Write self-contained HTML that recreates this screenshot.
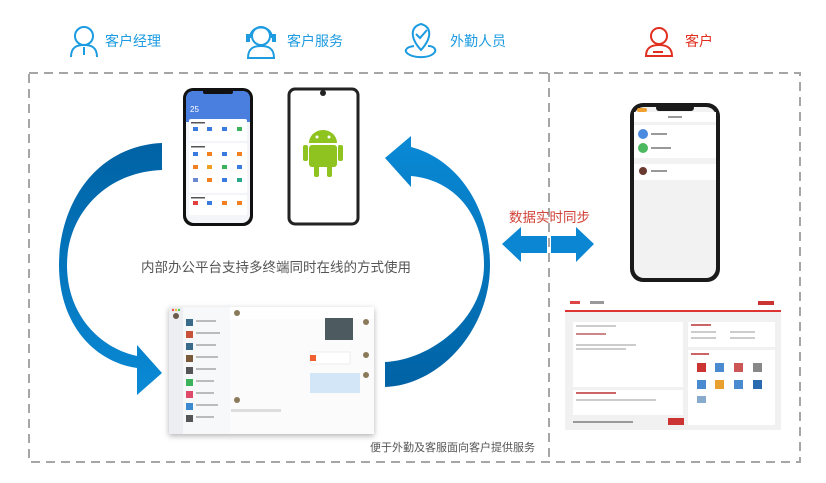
<!DOCTYPE html>
<html><head><meta charset="utf-8"><style>
body{margin:0;width:826px;height:483px;background:#fff;overflow:hidden;position:relative;font-family:"Liberation Sans","Noto Sans CJK SC",sans-serif}
.a{position:absolute}
.t{position:absolute;font-size:14px;white-space:nowrap}
</style></head><body>
<svg class="a" style="left:0;top:0" width="826" height="483">
<defs>
<linearGradient id="gl" x1="0" y1="0" x2="0" y2="1"><stop offset="0" stop-color="#0062a4"/><stop offset="1" stop-color="#0a8ad6"/></linearGradient>
<linearGradient id="gr" x1="0" y1="0" x2="0" y2="1"><stop offset="0" stop-color="#0a8ad6"/><stop offset="1" stop-color="#0062a4"/></linearGradient>
<filter id="sh" x="-10%" y="-10%" width="120%" height="130%"><feDropShadow dx="0" dy="2" stdDeviation="3" flood-color="#000" flood-opacity="0.3"/></filter>
</defs>
<rect x="29" y="73" width="771" height="389" fill="none" stroke="#a6a6a6" stroke-width="2" stroke-dasharray="9,6"/>
<line x1="549" y1="73" x2="549" y2="462" stroke="#a6a6a6" stroke-width="2" stroke-dasharray="9,6"/>
<g fill="none" stroke="#1c9be0" stroke-width="2">
<circle cx="84" cy="36" r="9"/><path d="M71,57 C71,47 77,45 84,45 C91,45 97,47 97,57"/><path d="M84,47 L84,55"/>
<circle cx="261" cy="36" r="9"/><path d="M248,58 C248,48 254,46 261,46 C268,46 274,48 274,58 Z"/><path d="M250,38 C250,24 272,24 272,38"/>
<path d="M421,50 C410,38 410,27 421,24 C432,27 432,38 421,50Z"/><path d="M416,34 L420,38 L427,30"/><path d="M414,46 C405,47 403,52 410,55 C416,58 428,58 433,54 C438,50 434,46 428,46"/>
</g>
<rect x="246" y="34" width="4" height="8" fill="#1c9be0"/><rect x="272" y="34" width="4" height="8" fill="#1c9be0"/>
<g fill="none" stroke="#e02f1f" stroke-width="2"><circle cx="659" cy="36" r="8"/><path d="M646,56 C646,47 652,45 659,45 C666,45 672,47 672,56 Z"/><path d="M653,52 L663,52"/></g>
<path d="M162,143 C95,146 59,205 59,265 C59,325 95,362 137,368 L137,395 L162,373 L137,345 L137,356 C100,348 67,315 67,265 C67,215 105,172 162,170 Z" fill="url(#gl)"/>
<path d="M411,147 C460,160 490,210 490,265 C490,330 440,385 385,387 L385,362 C430,360 484,320 484,265 C484,215 455,180 411,176 L411,187 L385,158 L411,136 Z" fill="url(#gr)"/>
<path d="M502,244 L521,227 L521,236 L547,236 L547,253 L521,253 L521,262 Z" fill="#0a86d2"/>
<path d="M594,244 L576,227 L576,236 L551,236 L551,253 L576,253 L576,262 Z" fill="#0a86d2"/>
<!-- iPhone -->
<rect x="183" y="88" width="70" height="138" rx="10" fill="#111"/>
<rect x="186" y="91" width="64" height="132" rx="8" fill="#f3f5f8"/>
<path d="M186,99 Q186,91 194,91 L242,91 Q250,91 250,99 L250,122 L186,122Z" fill="#4a7fe0"/>
<rect x="203" y="89" width="30" height="5" rx="2" fill="#111"/>
<rect x="189" y="119" width="58" height="22" rx="2" fill="#fff"/>
<rect x="189" y="143" width="58" height="50" rx="2" fill="#fff"/>
<rect x="189" y="195" width="58" height="20" rx="2" fill="#fff"/>
<text x="190" y="112" font-size="8" fill="#fff" font-family="Liberation Sans">25</text>
<g fill="#3a7be0">
<rect x="193" y="127" width="5" height="4"/><rect x="207" y="127" width="5" height="4"/><rect x="222" y="127" width="5" height="4"/><rect x="237" y="127" width="5" height="4" fill="#3cb35a"/>
<rect x="193" y="152" width="5" height="4"/><rect x="207" y="152" width="5" height="4" fill="#f08020"/><rect x="222" y="152" width="5" height="4"/><rect x="237" y="152" width="5" height="4" fill="#f08020"/>
<rect x="193" y="165" width="5" height="4" fill="#f08020"/><rect x="207" y="165" width="5" height="4" fill="#f0a020"/><rect x="222" y="165" width="5" height="4" fill="#3cb35a"/><rect x="237" y="165" width="5" height="4"/>
<rect x="193" y="178" width="5" height="4" fill="#6a8ad0"/><rect x="207" y="178" width="5" height="4" fill="#f08020"/><rect x="222" y="178" width="5" height="4"/><rect x="237" y="178" width="5" height="4" fill="#2aa88a"/>
<rect x="193" y="201" width="5" height="4" fill="#e04040"/><rect x="207" y="201" width="5" height="4"/><rect x="222" y="201" width="5" height="4" fill="#f08020"/><rect x="237" y="201" width="5" height="4" fill="#f08020"/>
</g>
<g fill="#ccc"><rect x="191" y="122" width="14" height="1.5" fill="#555"/><rect x="191" y="146" width="14" height="1.5" fill="#555"/><rect x="191" y="197" width="14" height="1.5" fill="#555"/></g>
<!-- Android -->
<rect x="289" y="89" width="69" height="135" rx="6" fill="#fff" stroke="#222" stroke-width="3"/>
<circle cx="323" cy="93" r="3" fill="#222"/>
<g fill="#8fc31f"><path d="M309,143 A14,13 0 0 1 337,143 Z"/><rect x="309" y="145" width="28" height="22" rx="3"/><rect x="303" y="145" width="5" height="16" rx="2"/><rect x="338" y="145" width="5" height="16" rx="2"/><rect x="314" y="165" width="5" height="12" rx="2"/><rect x="327" y="165" width="5" height="12" rx="2"/></g>
<circle cx="317" cy="137" r="1.5" fill="#fff"/><circle cx="329" cy="137" r="1.5" fill="#fff"/>
<!-- desktop window -->
<g filter="url(#sh)"><rect x="169" y="307" width="205" height="127" fill="#fff"/></g>
<rect x="169" y="307" width="14" height="127" fill="#eceef1"/>
<rect x="183" y="307" width="47" height="127" fill="#f7f8f9"/>
<rect x="230" y="307" width="144" height="127" fill="#fbfbfc"/>
<rect x="230" y="307" width="144" height="12" fill="#fff"/>
<circle cx="237" cy="313" r="3" fill="#8a7a5a"/>
<circle cx="173" cy="310" r="1.2" fill="#e55"/><circle cx="176" cy="310" r="1.2" fill="#eb3"/><circle cx="179" cy="310" r="1.2" fill="#5c5"/>
<circle cx="176" cy="316" r="3" fill="#6a5a4a"/>
<rect x="325" y="318" width="28" height="22" fill="#4d5a60"/>
<rect x="310" y="352" width="40" height="12" fill="#fff" stroke="#eee"/>
<rect x="310" y="355" width="6" height="6" fill="#f06030"/>
<rect x="310" y="373" width="50" height="20" fill="#d3e6f8"/>
<circle cx="366" cy="322" r="3" fill="#8a7a5a"/><circle cx="366" cy="355" r="3" fill="#8a7a5a"/><circle cx="366" cy="375" r="3" fill="#8a7a5a"/><circle cx="237" cy="400" r="3" fill="#8a7a5a"/>
<rect x="231" y="409" width="50" height="3" fill="#ddd"/>
<g fill="#3b6b8a"><rect x="186" y="319" width="7" height="7"/><rect x="186" y="331" width="7" height="7" fill="#c9533a"/><rect x="186" y="343" width="7" height="7"/><rect x="186" y="355" width="7" height="7" fill="#7a5a3a"/><rect x="186" y="367" width="7" height="7" fill="#555"/><rect x="186" y="379" width="7" height="7" fill="#3cb35a"/><rect x="186" y="391" width="7" height="7" fill="#e04a6a"/><rect x="186" y="403" width="7" height="7" fill="#3b8ad0"/><rect x="186" y="415" width="7" height="7" fill="#555"/></g>
<g fill="#bbb"><rect x="196" y="320" width="20" height="2"/><rect x="196" y="332" width="24" height="2"/><rect x="196" y="344" width="20" height="2"/><rect x="196" y="356" width="22" height="2"/><rect x="196" y="368" width="20" height="2"/><rect x="196" y="380" width="18" height="2"/><rect x="196" y="392" width="18" height="2"/><rect x="196" y="404" width="22" height="2"/><rect x="196" y="416" width="18" height="2"/></g>
<!-- right phone -->
<rect x="630" y="103" width="90" height="179" rx="13" fill="#1a1a1a"/>
<rect x="634" y="107" width="82" height="171" rx="10" fill="#f2f2f2"/>
<rect x="634" y="112" width="82" height="10" fill="#fff"/>
<rect x="634" y="125" width="82" height="33" fill="#fff"/>
<rect x="634" y="164" width="82" height="16" fill="#fff"/>
<rect x="656" y="105" width="38" height="6" rx="3" fill="#1a1a1a"/>
<rect x="637" y="108" width="10" height="4" rx="2" fill="#f0a030"/>
<circle cx="643" cy="134" r="5" fill="#4a8ae0"/><circle cx="643" cy="148" r="5" fill="#4cb860"/><circle cx="643" cy="171" r="4" fill="#6a3a30"/>
<g fill="#999"><rect x="668" y="116" width="14" height="2"/><rect x="651" y="133" width="16" height="2"/><rect x="651" y="147" width="20" height="2"/><rect x="651" y="170" width="16" height="2"/></g>
<!-- web -->
<rect x="565" y="297" width="216" height="133" fill="#f1f1f1"/>
<rect x="565" y="297" width="216" height="14" fill="#fff"/>
<rect x="565" y="310" width="216" height="2" fill="#d33"/>
<rect x="570" y="301" width="10" height="3" fill="#d44"/><rect x="590" y="301" width="14" height="3" fill="#999"/><rect x="758" y="301" width="16" height="4" fill="#c33"/>
<rect x="573" y="322" width="110" height="65" fill="#fff"/>
<rect x="573" y="390" width="110" height="25" fill="#fff"/>
<rect x="688" y="322" width="87" height="25" fill="#fff"/>
<rect x="688" y="350" width="87" height="75" fill="#fff"/>
<g fill="#ccc"><rect x="576" y="325" width="40" height="2"/><rect x="576" y="333" width="30" height="2" fill="#c88"/><rect x="576" y="344" width="60" height="2"/><rect x="576" y="348" width="50" height="2"/><rect x="576" y="392" width="40" height="2" fill="#c66"/><rect x="576" y="399" width="80" height="2"/><rect x="691" y="324" width="20" height="2" fill="#c66"/><rect x="691" y="331" width="25" height="2"/><rect x="730" y="331" width="25" height="2"/><rect x="691" y="337" width="25" height="2"/><rect x="730" y="337" width="25" height="2"/><rect x="691" y="353" width="18" height="2" fill="#c66"/><rect x="573" y="421" width="60" height="2" fill="#999"/></g>
<rect x="668" y="418" width="16" height="7" fill="#c33"/>
<g fill="#4a8ad0"><rect x="697" y="363" width="9" height="9" fill="#c33"/><rect x="715" y="363" width="9" height="9"/><rect x="734" y="363" width="9" height="9" fill="#c55"/><rect x="753" y="363" width="9" height="9" fill="#888"/><rect x="697" y="380" width="9" height="9"/><rect x="715" y="380" width="9" height="9" fill="#e8a030"/><rect x="734" y="380" width="9" height="9"/><rect x="753" y="380" width="9" height="9" fill="#2a6ab0"/><rect x="697" y="396" width="9" height="7" fill="#8ac"/></g>
</svg>
<div class="t" style="left:105px;top:31px;color:#1c9be0">客户经理</div>
<div class="t" style="left:287px;top:31px;color:#1c9be0">客户服务</div>
<div class="t" style="left:450px;top:31px;color:#1c9be0">外勤人员</div>
<div class="t" style="left:685px;top:31px;color:#e02f1f">客户</div>
<div class="t" style="left:141px;top:256px;color:#555;font-size:13.5px">内部办公平台支持多终端同时在线的方式使用</div>
<div class="t" style="left:509px;top:206px;color:#d0453a;font-size:13.5px">数据实时同步</div>
<div class="t" style="left:370px;top:439px;color:#555;font-size:11px">便于外勤及客服面向客户提供服务</div>
</body></html>
